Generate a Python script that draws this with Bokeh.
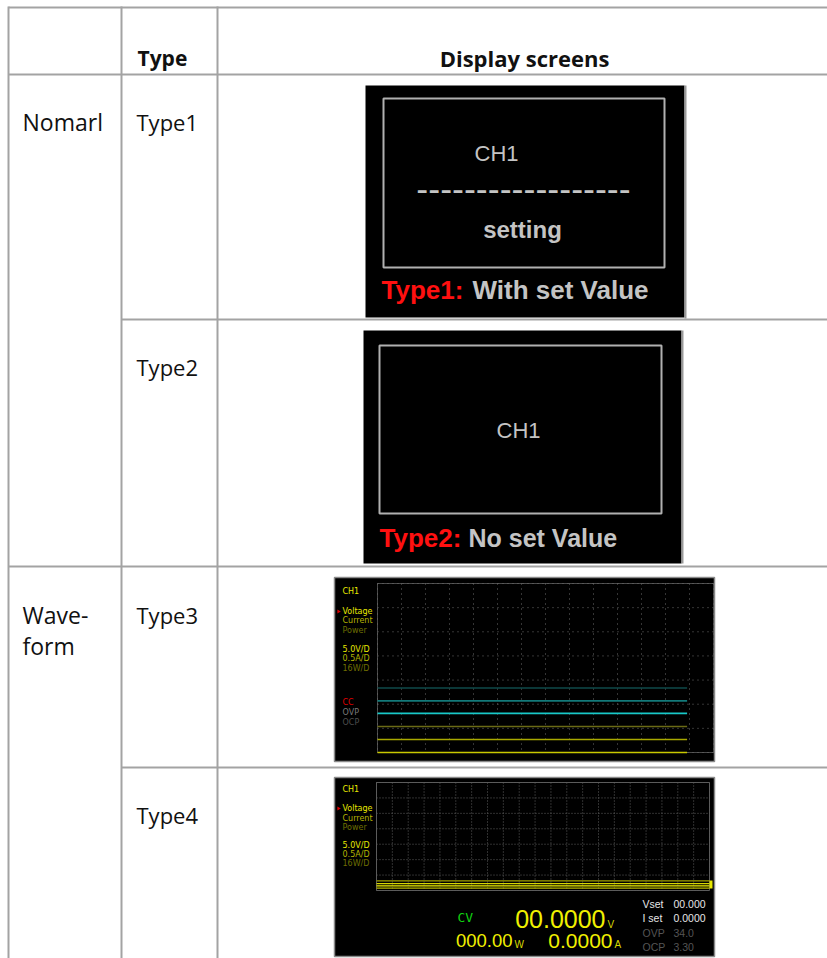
import math
from bokeh.plotting import figure
from bokeh.models import Range1d
from bokeh.embed import file_html
from bokeh.resources import INLINE
from bokeh.core.properties import value

# ---------------- data ----------------
header_labels = ["Type", "Display screens"]
group_labels = ["Nomarl", "Wave-", "form"]
type_labels = ["Type1", "Type2", "Type3", "Type4"]
screen_titles = ["Type1:", "Type2:"]
screen_captions = ["With set Value", "No set Value"]
channel_label = "CH1"
setting_label = "setting"
dash_label = "------------------"
panel_labels = ["CH1", "Voltage", "Current", "Power", "5.0V/D", "0.5A/D", "16W/D"]
panel_colors = ["#e8e800", "#e8e800", "#b4b400", "#6e6e00", "#e8e800", "#b4b400", "#6e6e00"]
protect_labels = ["CC", "OVP", "OCP"]
protect_colors = ["#e00000", "#7a7a7a", "#4e4e4e"]
# Type3 traces: level in grid divisions above bottom, end in divisions from left
type3_levels = [2.67, 2.14, 1.62, 1.08, 0.54, 0.0]
type3_colors = ["#0f4a4a", "#137a7a", "#18c8c8", "#6a6a14", "#a8a800", "#c8c800"]
type3_end = 12.9
# Type4 traces
type4_levels = [0.63, 0.45, 0.30, 0.15]
type4_colors = ["#a0a000", "#d8d800", "#f0f000", "#b8b800"]
mode_label = "CV"
readout_values = ["00.0000", "000.00", "0.0000"]
readout_units = ["V", "W", "A"]
set_labels = ["Vset", "I set", "OVP", "OCP"]
set_values = ["00.000", "0.0000", "34.0", "3.30"]
set_colors = ["#e6e6e6", "#e6e6e6", "#555555", "#555555"]

# ---------------- figure ----------------
p = figure(width=827, height=958, x_range=Range1d(0, 827), y_range=Range1d(958, 0),
           output_backend="svg", toolbar_location=None, min_border=0)
p.axis.visible = False
p.grid.visible = False
p.outline_line_color = None
p.background_fill_color = "white"
p.border_fill_color = "white"

TABLE = "#a3a3a3"
BODY_FONT = value("Open Sans")

# table lines
h_lines = [(8, 827, 7), (8, 827, 74), (121, 827, 319), (8, 827, 566), (121, 827, 767)]
p.segment(x0=[a for a, b, c in h_lines], x1=[b for a, b, c in h_lines],
          y0=[c for a, b, c in h_lines], y1=[c for a, b, c in h_lines],
          line_color=TABLE, line_width=2)
v_lines = [8, 121, 217]
p.segment(x0=v_lines, x1=v_lines, y0=[6] * 3, y1=[958] * 3, line_color=TABLE, line_width=2)

# headers
p.text(x=[137], y=[57], text=[header_labels[0]], text_font=BODY_FONT, text_font_style="bold",
       text_font_size="21px", text_align="left", text_baseline="middle", text_color="#111111")
p.text(x=[524], y=[57], text=[header_labels[1]], text_font=BODY_FONT, text_font_style="bold",
       text_font_size="22px", text_align="center", text_baseline="middle", text_color="#111111")

# group labels
p.text(x=[22, 22, 22], y=[121, 614, 645], text=group_labels, text_font=BODY_FONT,
       text_font_size="23px", text_align="left", text_baseline="middle", text_color="#111111")
# type labels
p.text(x=[136] * 4, y=[121, 366, 614, 814], text=type_labels, text_font=BODY_FONT,
       text_font_size="22px", text_align="left", text_baseline="middle", text_color="#111111")

GRAY = "#c4c4c4"
SCR_FONT = value("Liberation Sans")

# ---------------- Type1 screen ----------------
p.quad(left=[365], right=[684], top=[85], bottom=[317], fill_color="black", line_color=None)
p.segment(x0=[685], x1=[685], y0=[85], y1=[318], line_color="#9a9a9a", line_width=2)
p.quad(left=[383], right=[664], top=[98], bottom=[267], fill_color=None, line_color="#b0b0b0", line_width=2)
p.text(x=[496], y=[153], text=[channel_label], text_font=SCR_FONT, text_font_size="22px",
       text_align="center", text_baseline="middle", text_color=GRAY)
p.text(x=[523], y=[188], text=[dash_label], text_font=value("DejaVu Sans"), text_font_size="33px",
       text_align="center", text_baseline="middle", text_color=GRAY)
p.text(x=[522], y=[229], text=[setting_label], text_font=SCR_FONT, text_font_style="bold",
       text_font_size="24px", text_align="center", text_baseline="middle", text_color=GRAY)
p.text(x=[381], y=[289], text=[screen_titles[0]], text_font=SCR_FONT, text_font_style="bold",
       text_font_size="26px", text_align="left", text_baseline="middle", text_color="#ff1010")
p.text(x=[472], y=[289], text=[screen_captions[0]], text_font=SCR_FONT, text_font_style="bold",
       text_font_size="26px", text_align="left", text_baseline="middle", text_color=GRAY)

# ---------------- Type2 screen ----------------
p.quad(left=[363], right=[681], top=[330], bottom=[563], fill_color="black", line_color=None)
p.segment(x0=[682], x1=[682], y0=[330], y1=[563], line_color="#9a9a9a", line_width=2)
p.quad(left=[379], right=[661], top=[345], bottom=[513], fill_color=None, line_color="#b0b0b0", line_width=2)
p.text(x=[518], y=[430], text=[channel_label], text_font=SCR_FONT, text_font_size="22px",
       text_align="center", text_baseline="middle", text_color=GRAY)
p.text(x=[379], y=[537], text=[screen_titles[1]], text_font=SCR_FONT, text_font_style="bold",
       text_font_size="26px", text_align="left", text_baseline="middle", text_color="#ff1010")
p.text(x=[468], y=[537], text=[screen_captions[1]], text_font=SCR_FONT, text_font_style="bold",
       text_font_size="25px", text_align="left", text_baseline="middle", text_color=GRAY)


def draw_grid(x0, x1, y0, y1, ncols, nrows, color, dash, width=1):
    xs = [x0 + (x1 - x0) * i / ncols for i in range(ncols + 1)]
    ys = [y0 + (y1 - y0) * j / nrows for j in range(nrows + 1)]
    p.segment(x0=xs, x1=xs, y0=[y0] * len(xs), y1=[y1] * len(xs), line_color=color,
              line_dash=dash, line_width=width)
    p.segment(x0=[x0] * len(ys), x1=[x1] * len(ys), y0=ys, y1=ys, line_color=color,
              line_dash=dash, line_width=width)


def draw_panel(x, ys, labels, colors, size="8px"):
    p.text(x=[x] * len(labels), y=ys, text=labels, text_font=value("DejaVu Sans"),
           text_font_size=size, text_align="left", text_baseline="middle", text_color=colors)


# ---------------- Type3 screen ----------------
p.quad(left=[334], right=[714], top=[577], bottom=[761], fill_color="black",
       line_color="#8a8a8a", line_width=1.5)
g3 = dict(x0=377, x1=713, y0=583, y1=752, ncols=14, nrows=7)
p.quad(left=[g3["x0"]], right=[g3["x1"]], top=[g3["y0"]], bottom=[g3["y1"]], fill_color=None,
       line_color="#4a4a4a", line_width=1)
draw_grid(g3["x0"], g3["x1"], g3["y0"], g3["y1"], g3["ncols"], g3["nrows"], "#6a6a6a", "1 4")
dx3 = (g3["x1"] - g3["x0"]) / g3["ncols"]
dy3 = (g3["y1"] - g3["y0"]) / g3["nrows"]
y3 = [g3["y1"] - lv * dy3 for lv in type3_levels]
p.segment(x0=[g3["x0"]] * len(y3), x1=[g3["x0"] + type3_end * dx3] * len(y3), y0=y3, y1=y3,
          line_color=type3_colors, line_width=1.6)
draw_panel(342, [591, 611, 620, 630, 649, 658, 668], panel_labels, panel_colors)
draw_panel(342, [702, 712, 722], protect_labels, protect_colors)
p.scatter(x=[338], y=[611], marker="triangle", size=4, angle=-math.pi / 2,
          fill_color="#e00000", line_color=None)

# ---------------- Type4 screen ----------------
p.quad(left=[334], right=[714], top=[777], bottom=[956], fill_color="black",
       line_color="#8a8a8a", line_width=1.5)
g4 = dict(x0=376, x1=709, y0=782, y1=890, ncols=21, nrows=7)
p.quad(left=[g4["x0"]], right=[g4["x1"]], top=[g4["y0"]], bottom=[g4["y1"]], fill_color=None,
       line_color="#5a5a5a", line_width=1)
draw_grid(g4["x0"], g4["x1"], g4["y0"], g4["y1"], g4["ncols"], g4["nrows"], "#5e5e5e", "1 2")
dy4 = (g4["y1"] - g4["y0"]) / g4["nrows"]
y4 = [g4["y1"] - lv * dy4 for lv in type4_levels]
p.segment(x0=[g4["x0"]] * len(y4), x1=[g4["x1"]] * len(y4), y0=y4, y1=y4,
          line_color=type4_colors, line_width=1.3)
p.quad(left=[709], right=[712], top=[880], bottom=[888], fill_color="#e8e800", line_color=None)
draw_panel(342, [789, 808, 818, 827, 845, 854, 863], panel_labels, panel_colors)
p.scatter(x=[338], y=[808], marker="triangle", size=4, angle=-math.pi / 2,
          fill_color="#e00000", line_color=None)

# readouts
p.text(x=[457], y=[917], text=[mode_label], text_font=value("DejaVu Sans Mono"),
       text_font_size="13px", text_align="left", text_baseline="middle", text_color="#10d010")
YEL = "#f0f000"
p.text(x=[605], y=[918], text=[readout_values[0]], text_font=SCR_FONT, text_font_size="25px",
       text_align="right", text_baseline="middle", text_color=YEL)
p.text(x=[512], y=[940], text=[readout_values[1]], text_font=SCR_FONT, text_font_size="18.5px",
       text_align="right", text_baseline="middle", text_color=YEL)
p.text(x=[612], y=[940], text=[readout_values[2]], text_font=SCR_FONT, text_font_size="21px",
       text_align="right", text_baseline="middle", text_color=YEL)
p.text(x=[607, 514, 614], y=[924, 944, 944], text=readout_units, text_font=SCR_FONT,
       text_font_size="10px", text_align="left", text_baseline="middle", text_color="#d8d800")
p.text(x=[642] * 4, y=[903, 917, 932, 946], text=set_labels, text_font=SCR_FONT,
       text_font_size="10.5px", text_align="left", text_baseline="middle", text_color=set_colors)
p.text(x=[673] * 4, y=[903, 917, 932, 946], text=set_values, text_font=SCR_FONT,
       text_font_size="10.5px", text_align="left", text_baseline="middle", text_color=set_colors)

open("out.html", "w").write(file_html(p, INLINE))
